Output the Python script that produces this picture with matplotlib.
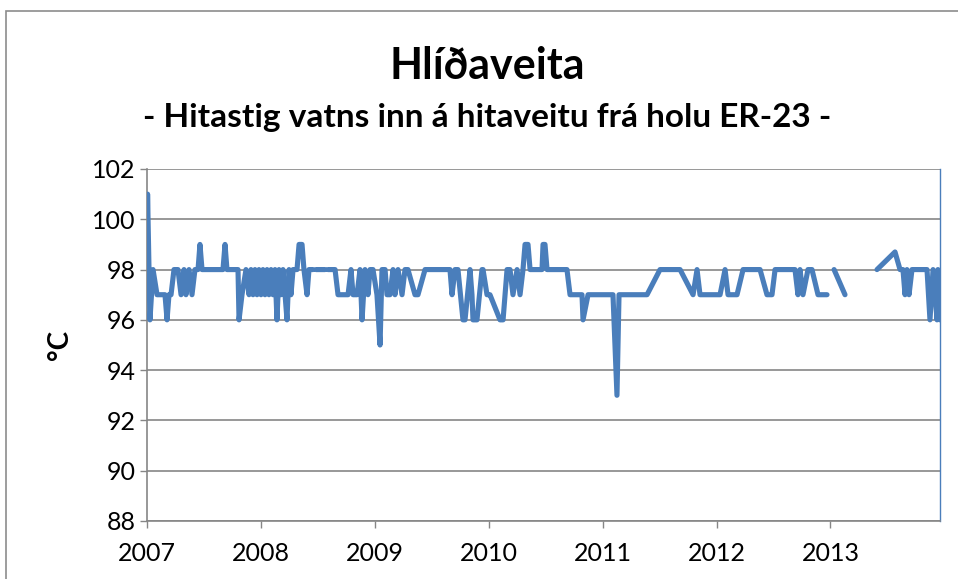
import numpy as np
import matplotlib
matplotlib.use("Agg")
import matplotlib.pyplot as plt
from matplotlib.patches import Rectangle

# decimal year, temperature (°C); NaN = gap in record
years = [
    2007.000, 2007.005, 2007.026, 2007.053, 2007.088, 2007.158, 2007.176, 2007.193,
    2007.211, 2007.237, 2007.272, 2007.299, 2007.325, 2007.342, 2007.369, 2007.395,
    2007.421, 2007.448, 2007.465, 2007.483, 2007.667, 2007.685, 2007.702, 2007.799,
    2007.808, 2007.834, 2007.869, 2007.896, 2007.913, 2007.931, 2007.948, 2007.966,
    2007.983, 2008.001, 2008.018, 2008.036, 2008.054, 2008.071, 2008.089, 2008.106,
    2008.124, 2008.141, 2008.159, 2008.176, 2008.194, 2008.212, 2008.229, 2008.247,
    2008.264, 2008.282, 2008.317, 2008.335, 2008.361, 2008.378, 2008.405, 2008.422,
    2008.457, 2008.470, 2008.484, 2008.563, 2008.576, 2008.589, 2008.651, 2008.677,
    2008.765, 2008.791, 2008.809, 2008.844, 2008.870, 2008.888, 2008.914, 2008.940,
    2008.958, 2008.984, 2009.019, 2009.046, 2009.063, 2009.090, 2009.107, 2009.133,
    2009.160, 2009.177, 2009.204, 2009.239, 2009.265, 2009.291, 2009.353, 2009.379,
    2009.441, 2009.458, 2009.660, 2009.678, 2009.704, 2009.730, 2009.774, 2009.792,
    2009.836, 2009.853, 2009.862, 2009.897, 2009.941, 2009.950, 2009.985, 2010.011,
    2010.099, 2010.126, 2010.161, 2010.187, 2010.213, 2010.249, 2010.275, 2010.301,
    2010.319, 2010.345, 2010.363, 2010.468, 2010.477, 2010.494, 2010.512, 2010.687,
    2010.714, 2010.819, 2010.828, 2010.872, 2011.091, 2011.126, 2011.144, 2011.390,
    2011.504, 2011.680, 2011.794, 2011.829, 2011.855, 2012.031, 2012.075, 2012.101,
    2012.180, 2012.233, 2012.382, 2012.443, 2012.487, 2012.514, 2012.689, 2012.715,
    2012.733, 2012.759, 2012.803, 2012.838, 2012.891, 2012.970, 2013.000, 2013.032,
    2013.128, 2013.300, 2013.409, 2013.567, 2013.611, 2013.637, 2013.655, 2013.672,
    2013.690, 2013.716, 2013.848, 2013.874, 2013.901, 2013.936, 2013.944, 2013.962,
]
temps = [
    98, 101, 96, 98, 97, 97, 96, 97,
    97, 98, 98, 97, 98, 97, 98, 97,
    98, 98, 99, 98, 98, 99, 98, 98,
    96, 97, 98, 97, 98, 97, 98, 97,
    98, 97, 98, 97, 98, 97, 98, 97,
    98, 96, 98, 97, 98, 97, 96, 98,
    97, 98, 98, 99, 99, 98, 97, 98,
    98, np.nan, 98, 98, np.nan, 98, 98, 97,
    97, 98, 97, 97, 98, 96, 98, 97,
    98, 98, 97, 95, 98, 98, 97, 97,
    98, 97, 98, 97, 98, 98, 97, 97,
    98, 98, 98, 97, 98, 98, 96, 96,
    98, 97, 96, 96, 98, 98, 97, 97,
    96, 96, 98, 98, 97, 98, 97, 98,
    99, 99, 98, 98, 99, 99, 98, 98,
    97, 97, 96, 97, 97, 93, 97, 97,
    98, 98, 97, 98, 97, 97, 98, 97,
    97, 98, 98, 97, 97, 98, 98, 97,
    98, 97, 98, 98, 97, 97, np.nan, 98,
    97, np.nan, 98, 98.7, 98, 98, 97, 98,
    97, 98, 98, 96, 98, 96, 98, 96,
]

year_ticks = [2007, 2008, 2009, 2010, 2011, 2012, 2013]
temp_ticks = [88, 90, 92, 94, 96, 98, 100, 102]

title = "Hlíðaveita"
subtitle = "- Hitastig vatns inn á hitaveitu frá holu ER-23 -"
ylabel = "°C"

plt.rcParams['font.family'] = ['Lato', 'DejaVu Sans']

fig = plt.figure(figsize=(9.58, 5.79), dpi=100)
fig.patches.append(Rectangle((6/958, -0.1), 1.2, 1 - 11/579 + 0.1,
                             transform=fig.transFigure, fill=False,
                             edgecolor='#8c8c8c', linewidth=1.2))

ax = fig.add_axes([147/958, 1 - 521/579, (940 - 147)/958, (521 - 169)/579])
ax.plot(years, temps, color='#4A7EBB', linewidth=3.7, solid_joinstyle='round',
        solid_capstyle='round', zorder=3)

ax.set_xlim(2007.0, 2013.962)
ax.set_ylim(88, 102)
ax.set_xticks(year_ticks)
ax.set_xticklabels([str(y) for y in year_ticks])
ax.set_yticks(temp_ticks)
ax.grid(axis='y', color='#868686', linewidth=1.2)
ax.set_axisbelow(True)
ax.tick_params(axis='both', direction='out', length=5, color='#868686',
               labelsize=18, width=1)
ax.tick_params(axis='x', pad=10)
ax.tick_params(axis='y', pad=3)
for s in ['left', 'bottom']:
    ax.spines[s].set_color('#868686')
    ax.spines[s].set_linewidth(1.2)
ax.spines['top'].set_visible(False)
ax.spines['right'].set_color('#4A7EBB')
ax.spines['right'].set_linewidth(1.0)

ax.set_ylabel(ylabel, fontsize=20, fontweight='bold', labelpad=14)

fig.text(487/958, 1 - 66/579, title, ha='center', va='center',
         fontsize=31, fontweight='bold')
fig.text(487/958, 1 - 117/579, subtitle, ha='center', va='center',
         fontsize=24, fontweight='bold')

fig.savefig('out.png', dpi=100)
